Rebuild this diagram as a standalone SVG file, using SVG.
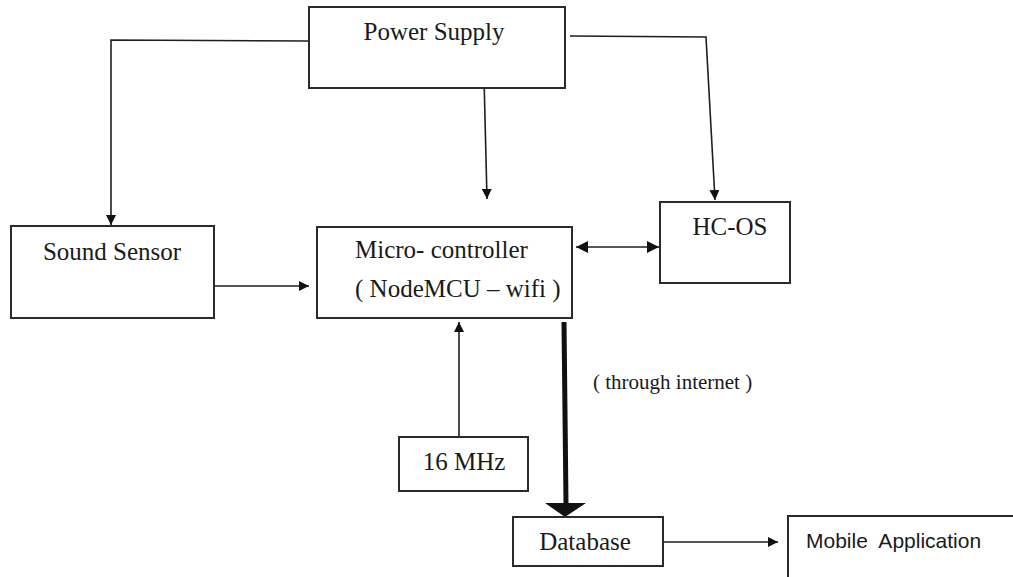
<svg xmlns="http://www.w3.org/2000/svg" width="1013" height="577" viewBox="0 0 1013 577">
  <style>
    .box { fill: #fff; stroke: #2a2a2a; stroke-width: 2; }
    .t { font-family: "Liberation Serif", "Times New Roman", serif; font-size: 25px; fill: #1a1a1a; }
    .ts { font-family: "Liberation Sans", Arial, sans-serif; font-size: 21px; fill: #1a1a1a; white-space: pre; }
    .ln { fill: none; stroke: #1e1e1e; stroke-width: 1.6; }
  </style>
  <defs>
    <marker id="ah" viewBox="0 0 10 10" refX="10" refY="5" markerWidth="10" markerHeight="10" markerUnits="userSpaceOnUse" orient="auto-start-reverse">
      <path d="M0,0 L10,5 L0,10 Z" fill="#111"/>
    </marker>
    <marker id="ah2" viewBox="0 0 10 10" refX="10" refY="5" markerWidth="13" markerHeight="12" markerUnits="userSpaceOnUse" orient="auto-start-reverse">
      <path d="M0,0 L10,5 L0,10 Z" fill="#111"/>
    </marker>
  </defs>
  <rect width="1013" height="577" fill="#fff"/>

  <g id="connectors">
    <path class="ln" d="M309,41 L111,40 L111,225" marker-end="url(#ah)"/>
    <path class="ln" d="M484,78 L487,199" marker-end="url(#ah)"/>
    <path class="ln" d="M570,36 L706,37 L715,200" marker-end="url(#ah)"/>
    <path class="ln" d="M208,286 L309,286" marker-end="url(#ah)"/>
    <path class="ln" d="M576,247 L659,247" stroke-width="3" marker-start="url(#ah2)" marker-end="url(#ah2)"/>
    <path class="ln" d="M459,437 L459,322" marker-end="url(#ah)"/>
    <path d="M564,322 L566,504" fill="none" stroke="#111" stroke-width="5"/>
    <polygon points="545,503 586,503 565,517" fill="#111"/>
    <path class="ln" d="M663,542 L778,542" marker-end="url(#ah)"/>
  </g>

  <g id="power-supply">
    <rect class="box" x="309" y="7" width="256" height="81"/>
    <text class="t" x="434" y="40" text-anchor="middle">Power Supply</text>
  </g>
  <g id="sound-sensor">
    <rect class="box" x="11" y="226" width="203" height="92"/>
    <text class="t" x="112" y="260" text-anchor="middle">Sound Sensor</text>
  </g>
  <g id="microcontroller">
    <rect class="box" x="317" y="227" width="255" height="91"/>
    <text class="t" x="355" y="258">Micro- controller</text>
    <text class="t" x="355" y="297">( NodeMCU – wifi )</text>
  </g>
  <g id="hc-os">
    <rect class="box" x="660" y="202" width="130" height="81"/>
    <text class="t" x="730" y="235" text-anchor="middle">HC-OS</text>
  </g>
  <g id="mhz">
    <rect class="box" x="399" y="437" width="129" height="54"/>
    <text class="t" x="464" y="470" text-anchor="middle">16 MHz</text>
  </g>
  <g id="database">
    <rect class="box" x="513" y="517" width="150" height="49"/>
    <text class="t" x="585" y="550" text-anchor="middle">Database</text>
  </g>
  <g id="mobile-app">
    <rect class="box" x="788" y="516" width="240" height="80"/>
    <text class="ts" x="806" y="548">Mobile  Application</text>
  </g>
  <g id="label-internet">
    <text class="t" x="593" y="389" style="font-size:21px">( through internet )</text>
  </g>
</svg>
